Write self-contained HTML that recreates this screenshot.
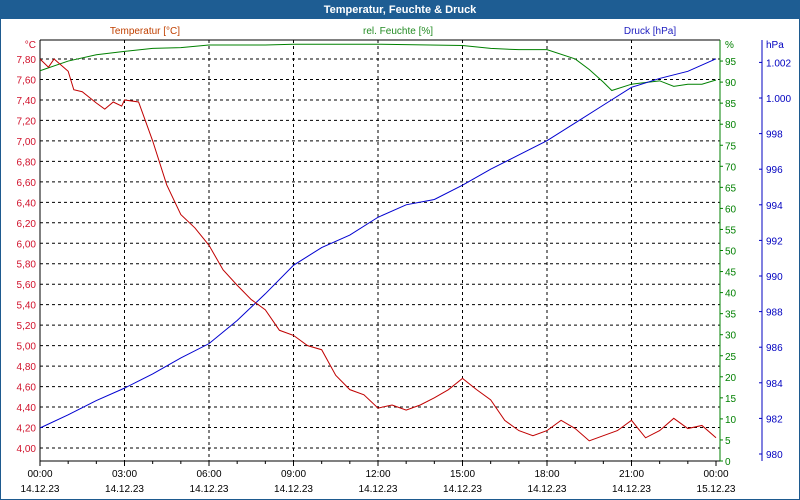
<!DOCTYPE html>
<html><head><meta charset="utf-8"><style>
body{margin:0;background:#fff;}
svg{display:block;font-family:"Liberation Sans",sans-serif;}
</style></head><body>
<svg id="chart" width="800" height="500">
<rect x="0" y="0" width="800" height="500" fill="#fff" stroke="#1e5a8f" stroke-width="2"/>
<rect x="0" y="0" width="800" height="19" fill="#1e5d93"/>
<text x="400" y="13" text-anchor="middle" fill="#fff" font-size="11" font-weight="bold">Temperatur, Feuchte &amp; Druck</text>
<text x="145" y="34" text-anchor="middle" fill="#c04000" font-size="10">Temperatur [°C]</text>
<text x="398" y="34" text-anchor="middle" fill="#228b22" font-size="10">rel. Feuchte [%]</text>
<text x="650" y="34" text-anchor="middle" fill="#2020c0" font-size="10">Druck [hPa]</text>
<g id="g"></g>
</svg>
<script>
const times=[0,0.3,0.5,1,1.2,1.5,2,2.3,2.6,2.9,3,3.5,4,4.5,5,5.5,6,6.5,7,7.5,8,8.5,9,9.5,10,10.5,11,11.5,12,12.5,13,13.5,14,14.5,15,15.5,16,16.5,17,17.5,18,18.5,19,19.5,20,20.5,21,21.5,22,22.5,23,23.5,24];
const tempValues=[7.80,7.72,7.80,7.68,7.50,7.48,7.37,7.31,7.38,7.34,7.40,7.38,7.00,6.57,6.28,6.15,5.98,5.74,5.59,5.45,5.35,5.15,5.10,5.00,4.96,4.71,4.57,4.52,4.39,4.42,4.37,4.42,4.49,4.57,4.68,4.57,4.47,4.27,4.17,4.12,4.17,4.27,4.19,4.07,4.12,4.17,4.27,4.10,4.17,4.29,4.19,4.22,4.10];
const humTimes=[0,1,2,3,4,5,6,8,9,12,15,16,17,18,19,19.5,20,20.3,21,22,22.5,23,23.5,24];
const humValues=[92.7,95,96.5,97.3,98,98.2,98.8,98.8,99,99,98.7,98,97.7,97.7,95.5,93,90,88,89.5,90.3,89,89.5,89.5,90.5];
const presTimes=[0,1,2,3,4,5,6,7,8,9,10,11,12,13,14,15,16,17,18,19,20,21,22,23,24];
const presValues=[981.46,982.2,983.0,983.7,984.5,985.4,986.2,987.5,989.0,990.6,991.6,992.3,993.3,994.0,994.3,995.1,996.0,996.8,997.6,998.6,999.6,1000.6,1001.1,1001.5,1002.2];
const tempTicks=["4,00","4,20","4,40","4,60","4,80","5,00","5,20","5,40","5,60","5,80","6,00","6,20","6,40","6,60","6,80","7,00","7,20","7,40","7,60","7,80"];
const humTicks=[0,5,10,15,20,25,30,35,40,45,50,55,60,65,70,75,80,85,90,95];
const presTicks=[980,982,984,986,988,990,992,994,996,998,1000,1002];
const timeLabels=["00:00","03:00","06:00","09:00","12:00","15:00","18:00","21:00","00:00"];
const dateLabels=["14.12.23","14.12.23","14.12.23","14.12.23","14.12.23","14.12.23","14.12.23","14.12.23","15.12.23"];

const L=40,R=716,T=40,B=461;
const X=t=>L+t*(R-L)/24;
const YT=v=>448-(v-4)*(389/3.8);
const YH=v=>B-v*4.21;
const YP=v=>98+(1000-v)*17.8;
const g=document.getElementById('g');
const NS='http://www.w3.org/2000/svg';
function mk(tag,a,txt){const e=document.createElementNS(NS,tag);for(const k in a)e.setAttribute(k,a[k]);if(txt!==undefined)e.textContent=txt;g.appendChild(e);return e;}

// grid
tempTicks.forEach((s,i)=>{const v=parseFloat(s.replace(',','.'));const y=YT(v);
 const l=mk('line',{x1:L,x2:720,y1:y,y2:y,stroke:'#000','stroke-dasharray':'3,3','stroke-width':1});
 
 
 const t=mk('text',{x:36,y:y+4,'text-anchor':'end',fill:'#d0102a','font-size':10},s);
 
 
});
timeLabels.forEach((s,i)=>{const x=X(i*3);
 if(i>0&&i<8){const l=mk('line',{x1:x,x2:x,y1:T,y2:B,stroke:'#000','stroke-dasharray':'3,3'});
 
 }
 const t=mk('text',{x:x,y:477,'text-anchor':'middle',fill:'#000','font-size':10},s);
 
 
 const d=mk('text',{x:x,y:492,'text-anchor':'middle',fill:'#000','font-size':10},dateLabels[i]);
 
 
});
for(let h=0;h<=24;h++){const x=X(h);const l=mk('line',{x1:x,x2:x,y1:B,y2:B+(h%3?3:5),stroke:'#000'});
 
 }
// axes
[[L,T,L,B,'#000'],[L,B,720,B,'#000'],[L,T,720,T,'#000'],[720,T,720,B,'#008000'],[762,T,762,B,'#0000c0']].forEach(a=>{
 const l=mk('line',{x1:a[0],y1:a[1],x2:a[2],y2:a[3],stroke:a[4]});
 
 });
const u1=mk('text',{x:36,y:48,'text-anchor':'end',fill:'#d0102a','font-size':10},'°C');


const u2=mk('text',{x:725,y:48,fill:'#008000','font-size':10},'%');


const u3=mk('text',{x:766,y:48,fill:'#0000c0','font-size':10},'hPa');


humTicks.forEach(v=>{const y=YH(v);
 const t=mk('text',{x:725,y:y+4,fill:'#008000','font-size':10},String(v));
 
 
 const l=mk('line',{x1:720,x2:723,y1:y,y2:y,stroke:'#008000'});
 
 });
presTicks.forEach(v=>{const y=YP(v);
 const s=v>=1000?'1.'+String(v).slice(1):String(v);
 const t=mk('text',{x:766,y:y+4,fill:'#0000c0','font-size':10},s);
 
 
 const l=mk('line',{x1:759,x2:762,y1:y,y2:y,stroke:'#0000c0'});
 
 });
// series
const hp=mk('polyline',{points:humTimes.map((t,i)=>X(t)+','+YH(humValues[i])).join(' '),fill:'none',stroke:'#008000','stroke-width':1});


const pp=mk('polyline',{points:presTimes.map((t,i)=>X(t)+','+YP(presValues[i])).join(' '),fill:'none',stroke:'#0000d0','stroke-width':1});


const tp=mk('polyline',{points:times.map((t,i)=>X(t)+','+YT(tempValues[i])).join(' '),fill:'none',stroke:'#c00000','stroke-width':1});


</script>
</body></html>
